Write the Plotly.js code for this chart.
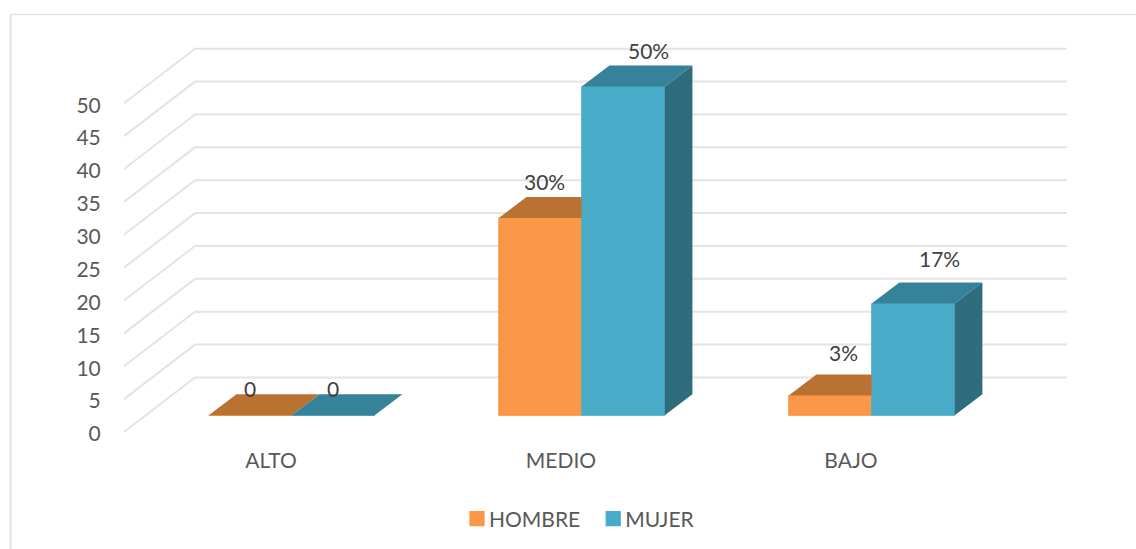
<!DOCTYPE html>
<html>
<head>
<meta charset="utf-8">
<script src="https://cdn.plot.ly/plotly-3.0.1.min.js"></script>
<style>html,body{margin:0;padding:0;background:#fff;overflow:hidden}#chart{width:1136px;height:549px}</style>
</head>
<body>
<div id="chart"></div>
<script>
// ---- data ----
const categories = ["ALTO", "MEDIO", "BAJO"];
const hombre = [0, 30, 3];
const mujer = [0, 50, 17];
const hombreLabels = ["0", "30%", "3%"];
const mujerLabels = ["0", "50%", "17%"];
const yTicks = [0, 5, 10, 15, 20, 25, 30, 35, 40, 45, 50];

// ---- pseudo 3D projection, in axis units ----
const WALL_DX = 0.2448, WALL_DY = 8.29;   // depth of the side wall
const BAR_DX = 0.0955, BAR_DY = 3.2;      // depth of a bar
const FLOOR = 2.54;                       // floor level of the bar fronts
const SHIFT = 0.0785, BAR_W = 0.2862;     // bar placement in a category
const X_MIN = -0.5, X_MAX = 2.752;

const xs = categories.map((_, i) => i);
const COL = {
  hFront: "#FB9848", hTop: "#B97232",
  mFront: "#48ACC8", mTop: "#368299", mSide: "#2F6C7E",
  grid: "#E4E4E4", text: "#595959", label: "#404040", frame: "#E2E2E2"
};
const FONT = "Lato, 'Open Sans', sans-serif";
const FONT_SIZE = 21;

function polys(list) {
  const x = [], y = [];
  list.forEach(p => { p.forEach(q => { x.push(q[0]); y.push(q[1]); }); x.push(p[0][0]); y.push(p[0][1]); x.push(null); y.push(null); });
  return {x, y};
}
function face(name, p, color) {
  const d = polys(p);
  return {type: "scatter", mode: "lines", x: d.x, y: d.y, fill: "toself", fillcolor: color,
    line: {width: 0, color: color}, hoverinfo: "skip", showlegend: false, name: name};
}

const hTop = xs.map((c, i) => {
  const l = c + SHIFT - BAR_W, r = c + SHIFT, t = FLOOR + hombre[i];
  const hidden = mujer[i] >= hombre[i] && mujer[i] > 0;
  const backR = hidden ? r : r + BAR_DX;
  return [[l, t], [l + BAR_DX, t + BAR_DY], [backR, t + BAR_DY], [r, t]];
});
const mTop = xs.map((c, i) => {
  const l = c + SHIFT, r = l + BAR_W, t = FLOOR + mujer[i];
  return [[l, t], [l + BAR_DX, t + BAR_DY], [r + BAR_DX, t + BAR_DY], [r, t]];
});
const mSide = xs.map((c, i) => {
  const r = c + SHIFT + BAR_W, t = FLOOR + mujer[i];
  return [[r, FLOOR], [r + BAR_DX, FLOOR + BAR_DY], [r + BAR_DX, t + BAR_DY], [r, t]];
});

const traces = [
  {type: "bar", name: "HOMBRE", x: xs, y: hombre, base: FLOOR, width: BAR_W, offset: SHIFT - BAR_W,
    marker: {color: COL.hFront, line: {width: 1, color: COL.hFront}}, hoverinfo: "skip"},
  {type: "bar", name: "MUJER", x: xs, y: mujer, base: FLOOR, width: BAR_W, offset: SHIFT,
    marker: {color: COL.mFront, line: {width: 1, color: COL.mFront}}, hoverinfo: "skip"},
  face("HOMBRE top", hTop, COL.hTop),
  face("MUJER top", mTop, COL.mTop),
  face("MUJER side", mSide, COL.mSide)
];

// walls: one polyline per tick
const gridShapes = yTicks.map(v => ({
  type: "path", layer: "below", xref: "x", yref: "y",
  path: `M${X_MIN},${v} L${X_MIN + WALL_DX},${v + WALL_DY} L${X_MAX},${v + WALL_DY}`,
  line: {color: COL.grid, width: 2}
}));

// figure fractions from pixel positions
const W = 1136, H = 549;
const px = p => p / W, py = p => 1 - p / H;

// outer frame (top and left edges)
const frameShapes = [
  {type: "line", xref: "paper", yref: "paper", layer: "below", x0: px(10), x1: px(W), y0: py(14.5), y1: py(14.5), line: {color: COL.frame, width: 1.5}},
  {type: "line", xref: "paper", yref: "paper", layer: "below", x0: px(10.5), x1: px(10.5), y0: py(14), y1: py(H), line: {color: COL.frame, width: 2}}
];

// data labels, offset in pixels from the front top of each bar
const hShift = [[0, 27], [4, 36.5], [13, 43.5]];
const mShift = [[0, 27], [25, 36], [26, 45.5]];
function labels(vals, texts, centre, shift) {
  return xs.map((c, i) => ({
    xref: "x", yref: "y", x: c + centre, y: FLOOR + vals[i], text: texts[i], showarrow: false,
    xanchor: "center", yanchor: "middle", xshift: shift[i][0], yshift: shift[i][1],
    font: {family: FONT, size: FONT_SIZE, color: COL.label}
  }));
}

const layout = {
  width: W, height: H, autosize: false,
  margin: {l: 0, r: 0, t: 0, b: 0, pad: 0},
  paper_bgcolor: "#fff", plot_bgcolor: "rgba(0,0,0,0)",
  barmode: "overlay", showlegend: true,
  font: {family: FONT, size: FONT_SIZE, color: COL.text},
  xaxis: {type: "linear", domain: [px(124), px(1067)], range: [X_MIN, X_MAX], tickmode: "array", tickvals: xs, ticktext: categories,
    showgrid: false, zeroline: false, showline: false, ticks: "outside", ticklen: 10, tickcolor: "rgba(0,0,0,0)",
    ticklabelshift: 2,
    tickfont: {family: FONT, size: FONT_SIZE, color: COL.text}, fixedrange: true},
  yaxis: {type: "linear", domain: [py(432), py(40)], range: [0, 59.62], tickmode: "array", tickvals: yTicks, ticktext: yTicks.map(String),
    showgrid: false, zeroline: false, showline: false, ticks: "outside", ticklen: 18, tickcolor: "rgba(0,0,0,0)",
    ticklabelshift: 2,
    tickfont: {family: FONT, size: FONT_SIZE, color: COL.text}, fixedrange: true},
  legend: {orientation: "h", x: px(449), xanchor: "left", y: py(519), yanchor: "middle",
    font: {family: FONT, size: FONT_SIZE, color: COL.text}, bgcolor: "rgba(0,0,0,0)", traceorder: "normal"},
  shapes: frameShapes.concat(gridShapes),
  annotations: labels(hombre, hombreLabels, SHIFT - BAR_W / 2, hShift)
    .concat(labels(mujer, mujerLabels, SHIFT + BAR_W / 2, mShift))
};

function tuneLegend(gd) {
  // legend swatches sit closer to their text in the reference
  gd.querySelectorAll(".legend .legendpoints").forEach(g => {
    g.setAttribute("transform", "translate(28,0) scale(1.17) translate(-20,0)");
  });
}
Plotly.newPlot("chart", traces, layout, {displayModeBar: false, staticPlot: true}).then(gd => {
  tuneLegend(gd);
  gd.on("plotly_afterplot", () => tuneLegend(gd));
  setTimeout(() => tuneLegend(gd), 50);
});
</script>
</body>
</html>
